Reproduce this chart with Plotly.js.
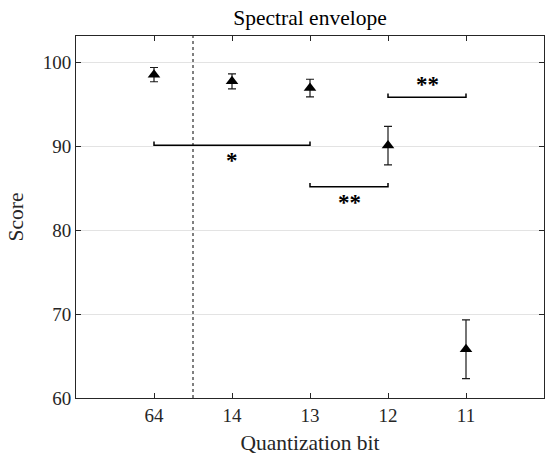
<!DOCTYPE html>
<html>
<head>
<meta charset="utf-8">
<script src="https://cdn.plot.ly/plotly-3.0.1.min.js"></script>
<style>html,body{margin:0;padding:0;background:#fff;}#chart{width:545px;height:455px;}</style>
</head>
<body>
<div id="chart"></div>
<script>
// ---- data ----
const categories = ['64', '14', '13', '12', '11'];
const meanScores = [98.5, 97.7, 96.9, 90.05, 65.8];
const errScores = [0.85, 0.9, 1.05, 2.3, 3.5];
const yTicks = [60, 70, 80, 90, 100];

// significance brackets (category index from, to), bracket level, label
const bracketFrom = [0, 2, 3];
const bracketTo = [2, 3, 4];
const bracketLevel = [90.1, 85.15, 95.8];
const bracketLabels = ['*', '**', '**'];
const labelX = [1, 2.5, 3.5];
const labelY = [88.6, 83.6, 97.65];

const dividerX = 0.5; // dotted separator between 64 and 14

// ---- traces ----
const xIdx = categories.map((c, i) => i);
const traces = [];
const tickH = 0.45;
for (let i = 0; i < bracketFrom.length; i++) {
  traces.push({
    type: 'scatter', mode: 'lines',
    x: [bracketFrom[i], bracketFrom[i], bracketTo[i], bracketTo[i]],
    y: [bracketLevel[i] + tickH, bracketLevel[i], bracketLevel[i], bracketLevel[i] + tickH],
    line: {color: '#000', width: 1.5},
    hoverinfo: 'skip', showlegend: false
  });
}
traces.push({
  type: 'scatter', mode: 'markers',
  x: xIdx, y: meanScores,
  error_y: {type: 'data', array: errScores, visible: true, color: '#1a1a1a', thickness: 1.2, width: 4},
  marker: {symbol: 'triangle-up', size: 11, color: '#000'},
  showlegend: false
});

const font = 'Liberation Serif, Times New Roman, serif';
const annotations = bracketLabels.map((t, i) => ({
  x: labelX[i], y: labelY[i], xref: 'x', yref: 'y',
  text: t, showarrow: false,
  font: {family: font, size: 23, color: '#000', weight: 'bold'},
  xanchor: 'center', yanchor: 'middle', yshift: -3
}));

const layout = {
  width: 545, height: 455,
  margin: {l: 76, r: 1, t: 36, b: 57},
  paper_bgcolor: '#fff', plot_bgcolor: '#fff',
  font: {family: font, color: '#262626', size: 19},
  showlegend: false,
  title: {text: 'Spectral envelope', font: {family: font, size: 21.5, color: '#000'},
          x: 0.5, xref: 'paper', xanchor: 'center', y: 1 - 17 / 455, yref: 'container', yanchor: 'middle'},
  xaxis: {
    range: [-1, 5], tickmode: 'array', tickvals: xIdx, ticktext: categories,
    ticks: 'inside', ticklen: 5, tickwidth: 1, tickcolor: '#262626',
    showline: true, linecolor: '#262626', linewidth: 1, mirror: 'ticks',
    showgrid: false, zeroline: false,
    tickfont: {family: font, size: 19, color: '#262626'},
    title: {text: 'Quantization bit', font: {family: font, size: 21.5, color: '#262626'}}
  },
  yaxis: {
    range: [60, 103.1], tickmode: 'array', tickvals: yTicks,
    ticks: 'inside', ticklen: 5, tickwidth: 1, tickcolor: '#262626',
    showline: true, linecolor: '#262626', linewidth: 1, mirror: 'ticks',
    showgrid: true, gridcolor: '#e3e3e3', gridwidth: 1, zeroline: false,
    tickfont: {family: font, size: 19, color: '#262626'},
    title: {text: 'Score', font: {family: font, size: 21.5, color: '#262626'}}
  },
  shapes: [{
    type: 'line', xref: 'x', yref: 'paper', x0: dividerX, x1: dividerX, y0: 0, y1: 1,
    line: {color: '#000', width: 1, dash: 'dot'}
  }],
  annotations: annotations
};

Plotly.newPlot('chart', traces, layout, {displayModeBar: false, staticPlot: true});
</script>
</body>
</html>
